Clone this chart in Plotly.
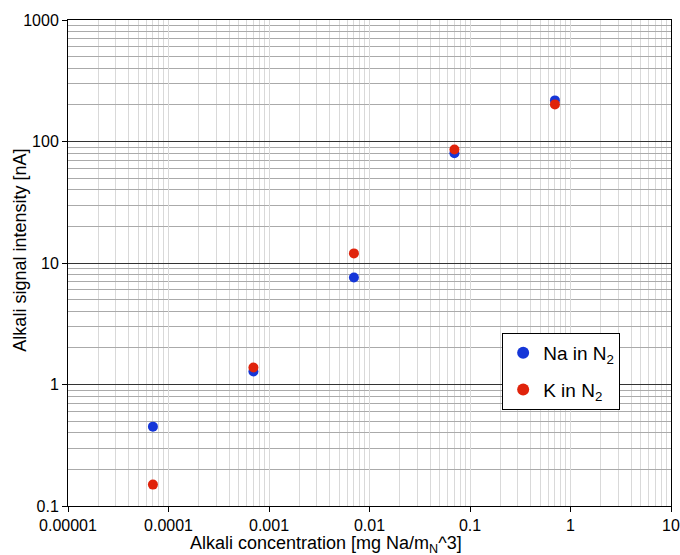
import plotly.graph_objects as go

conc = [7e-5, 7e-4, 7e-3, 7e-2, 7e-1]
na_signal = [0.45, 1.28, 7.6, 80, 218]
k_signal = [0.15, 1.38, 12, 86, 202]
x_ticks = [1e-5, 1e-4, 1e-3, 1e-2, 1e-1, 1, 10]
x_labels = ["0.00001", "0.0001", "0.001", "0.01", "0.1", "1", "10"]
y_ticks = [0.1, 1, 10, 100, 1000]
y_labels = ["0.1", "1", "10", "100", "1000"]
x_title = "Alkali concentration [mg Na/m<sub>N</sub>^3]"
y_title = "Alkali signal intensity [nA]"

font = "Liberation Sans, Arial, sans-serif"

fig = go.Figure()
fig.add_trace(go.Scatter(x=conc, y=na_signal, mode="markers", name="Na in N<sub>2</sub>",
                         legendgroup="na",
                         marker=dict(color="#1536d8", size=10)))
fig.add_trace(go.Scatter(x=conc, y=k_signal, mode="markers", name="K in N<sub>2</sub>",
                         legendgroup="k",
                         marker=dict(color="#e0230b", size=10)))

fig.update_layout(
    width=680, height=555,
    margin=dict(l=68, r=9, t=20, b=49),
    paper_bgcolor="white", plot_bgcolor="white",
    font=dict(family=font, size=16, color="black"),
    showlegend=True,
    legend=dict(x=0.72, y=0.356, xanchor="left", yanchor="top",
                bordercolor="black", borderwidth=1, bgcolor="white",
                font=dict(size=19), itemsizing="constant",
                traceorder="grouped", tracegroupgap=9),
    annotations=[
        dict(text=x_title, xref="paper", yref="paper", x=0.199, y=-0.08,
             xanchor="left", yanchor="middle", showarrow=False, font=dict(size=18)),
        dict(text=y_title, xref="paper", yref="paper", x=-0.08, y=0.527,
             xanchor="center", yanchor="middle", textangle=-90, showarrow=False,
             font=dict(size=18)),
    ],
)
fig.update_xaxes(
    type="log", range=[-5, 1], tickvals=x_ticks, ticktext=x_labels,
    showline=True, linecolor="black", linewidth=1, mirror=True,
    ticks="outside", ticklen=5, tickcolor="black", automargin=False,
    showgrid=True, gridcolor="#d9d9d9", gridwidth=1,
    minor=dict(dtick="D1", showgrid=True, gridcolor="#d9d9d9", ticks=""),
    zeroline=False,
)
fig.update_yaxes(
    type="log", range=[-1, 3], tickvals=y_ticks, ticktext=y_labels,
    showline=True, linecolor="black", linewidth=1, mirror=True,
    ticks="outside", ticklen=5, tickcolor="black", automargin=False,
    showgrid=True, gridcolor="#333333", gridwidth=1.3,
    minor=dict(dtick="D1", showgrid=True, gridcolor="#aaaaaa", ticks=""),
    zeroline=False,
)

fig.write_html("out.html")
